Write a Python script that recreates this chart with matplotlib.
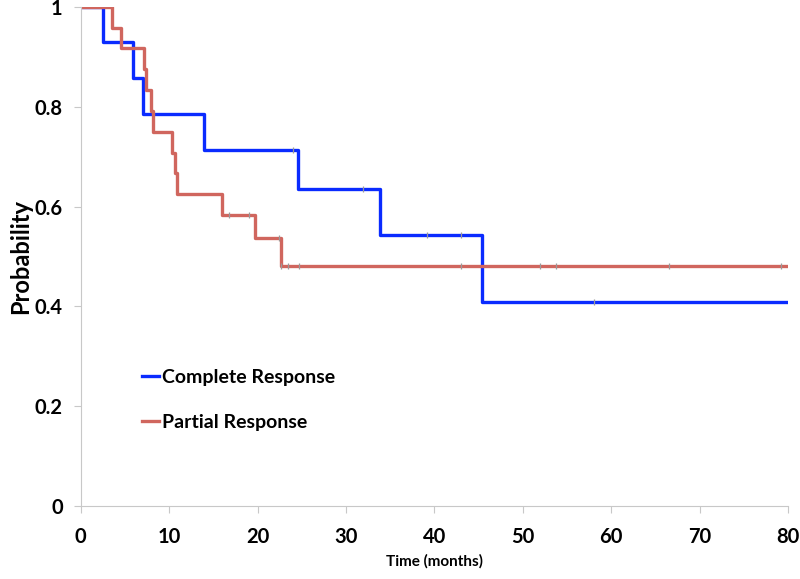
import numpy as np
from matplotlib import pyplot as plt
from matplotlib.ticker import FuncFormatter

plt.rcParams["font.family"] = ["Lato", "DejaVu Sans"]
plt.rcParams["font.weight"] = "bold"

# Complete Response (Kaplan-Meier steps)
cr_time = [0, 2.5, 5.85, 7.05, 13.9, 24.6, 33.8, 45.4, 80]
cr_surv = [1, 0.929, 0.857, 0.786, 0.714, 0.635, 0.544, 0.408, 0.408]
cr_cens = [24.0, 31.9, 39.2, 43.0, 58.0]

# Partial Response
pr_time = [0, 3.5, 4.6, 7.1, 7.35, 7.95, 8.2, 10.3, 10.6, 10.9, 15.95, 19.65, 22.65, 80]
pr_surv = [1, 0.958, 0.917, 0.875, 0.833, 0.792, 0.75, 0.708, 0.667, 0.625, 0.583, 0.538, 0.481, 0.481]
pr_cens = [16.8, 19.0, 22.4, 22.7, 23.4, 24.7, 43.0, 51.9, 53.7, 66.5, 79.2]

blue = "#0A2BFF"
red = "#D0665E"


def surv_at(times, surv, t):
    i = np.searchsorted(times, t, side="right") - 1
    return surv[i]


fig = plt.figure(figsize=(8, 5.79), dpi=100)
ax = fig.add_axes([0.101, 0.126, 0.884, 0.862])

ax.step(cr_time, cr_surv, where="post", color=blue, lw=2.4, label="Complete Response")
ax.step(pr_time, pr_surv, where="post", color=red, lw=2.4, label="Partial Response")

ax.plot(cr_cens, [surv_at(cr_time, cr_surv, t) for t in cr_cens], "|",
        color="#9a9a9a", ms=5, mew=0.9)
ax.plot(pr_cens, [surv_at(pr_time, pr_surv, t) for t in pr_cens], "|",
        color="#9a9a9a", ms=5, mew=0.9)

ax.set_xlim(0, 80)
ax.set_ylim(0, 1)
ax.set_xticks(np.arange(0, 81, 10))
ax.set_yticks(np.arange(0, 1.01, 0.2))
ax.yaxis.set_major_formatter(FuncFormatter(lambda v, p: "%g" % round(v, 1)))

for s in ["top", "right"]:
    ax.spines[s].set_visible(False)
for s in ["left", "bottom"]:
    ax.spines[s].set_color("#c8c8c8")
ax.tick_params(colors="#c8c8c8", length=5, labelsize=14.5, labelcolor="black")
ax.tick_params(axis="y", pad=8)
ax.tick_params(axis="x", pad=10)

ax.set_xlabel("Time (months)", fontsize=11, fontweight="bold", labelpad=5)
ax.set_ylabel("Probability", fontsize=17, fontweight="bold", labelpad=2)

ax.legend(loc="upper left", bbox_to_anchor=(0.062, 0.31), frameon=False,
          handlelength=0.85, handletextpad=0.15, labelspacing=1.45,
          prop={"weight": "bold", "size": 14})

fig.savefig("out.png", dpi=100)
